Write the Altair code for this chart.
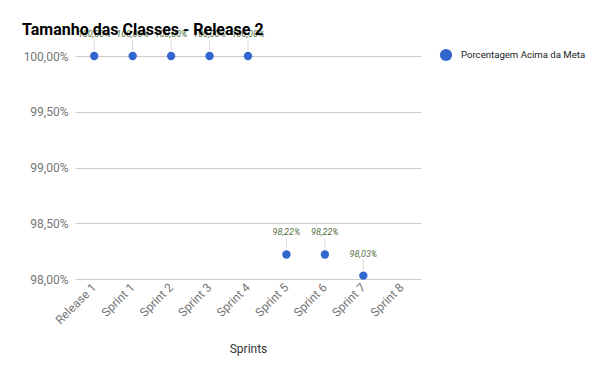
import altair as alt
import pandas as pd

categories = ["Release 1", "Sprint 1", "Sprint 2", "Sprint 3", "Sprint 4",
              "Sprint 5", "Sprint 6", "Sprint 7", "Sprint 8"]
values = [100.0, 100.0, 100.0, 100.0, 100.0, 98.22, 98.22, 98.03, None]
series_name = "Porcentagem Acima da Meta"
y_ticks = [98.0, 98.5, 99.0, 99.5, 100.0]

df = pd.DataFrame({"sprint": categories, "valor": values, "serie": series_name})

FONT = "Roboto"
x_scale = alt.Scale(domain=categories, paddingInner=0, paddingOuter=0)
x_enc = alt.X("sprint:N", scale=x_scale,
              axis=alt.Axis(title="Sprints", labelAngle=-45, labelColor="#757575",
                            labelFontSize=12, labelFont=FONT, ticks=False, domain=False,
                            grid=False, titleFont=FONT, titleFontSize=12,
                            titleFontWeight="normal", titleColor="#333333",
                            titlePadding=18, labelPadding=6))
y_scale = alt.Scale(domain=[98, 100], zero=False, nice=False)

base = alt.Chart(df).transform_filter("isValid(datum.valor)")

points = base.mark_point(filled=True, opacity=1, size=70, clip=False).encode(
    x=x_enc,
    y=alt.Y("valor:Q", scale=y_scale,
            axis=alt.Axis(title=None, values=y_ticks,
                          labelExpr="replace(format(datum.value, '.2f'), '.', ',') + '%'",
                          labelColor="#757575", labelFontSize=12, labelFont=FONT,
                          ticks=False, domain=False, gridColor="#cccccc",
                          labelPadding=7)),
    color=alt.Color("serie:N", scale=alt.Scale(range=["#3366cc"]),
                    legend=alt.Legend(title=None, orient="none", legendX=364, legendY=-8,
                                      symbolType="circle", symbolSize=150,
                                      labelFont=FONT, labelFontSize=9.6, labelOffset=8,
                                      labelColor="#222222", padding=0, labelLimit=300)),
)

leaders = base.mark_rule(color="#d9d9d9", strokeWidth=1, yOffset=-6, y2Offset=-16).encode(
    x=alt.X("sprint:N", scale=x_scale),
    y=alt.Y("valor:Q", scale=y_scale),
    y2="valor:Q",
)

labels = base.transform_calculate(
    lab="replace(format(datum.valor, '.2f'), '.', ',') + '%'"
).mark_text(dy=-22, fontSize=9, fontStyle="italic", font=FONT, color="#55703f").encode(
    x=alt.X("sprint:N", scale=x_scale),
    y=alt.Y("valor:Q", scale=y_scale),
    text="lab:N",
)

title = alt.Chart(pd.DataFrame({"t": ["Tamanho das Classes - Release 2"]})).mark_text(
    align="left", baseline="alphabetic", fontSize=16, fontWeight="bold", font=FONT,
    color="#000000"
).encode(x=alt.value(-53), y=alt.value(-21), text="t:N")

chart = alt.layer(leaders, points, labels, title).properties(
    width=346, height=223,
    background="white",
    autosize=alt.AutoSizeParams(type="none"),
    padding={"left": 67, "top": 48, "right": 176, "bottom": 80},
).configure_view(strokeWidth=0, stroke="transparent")

chart.save("out.html", embed_options={"renderer": "svg", "actions": False})
